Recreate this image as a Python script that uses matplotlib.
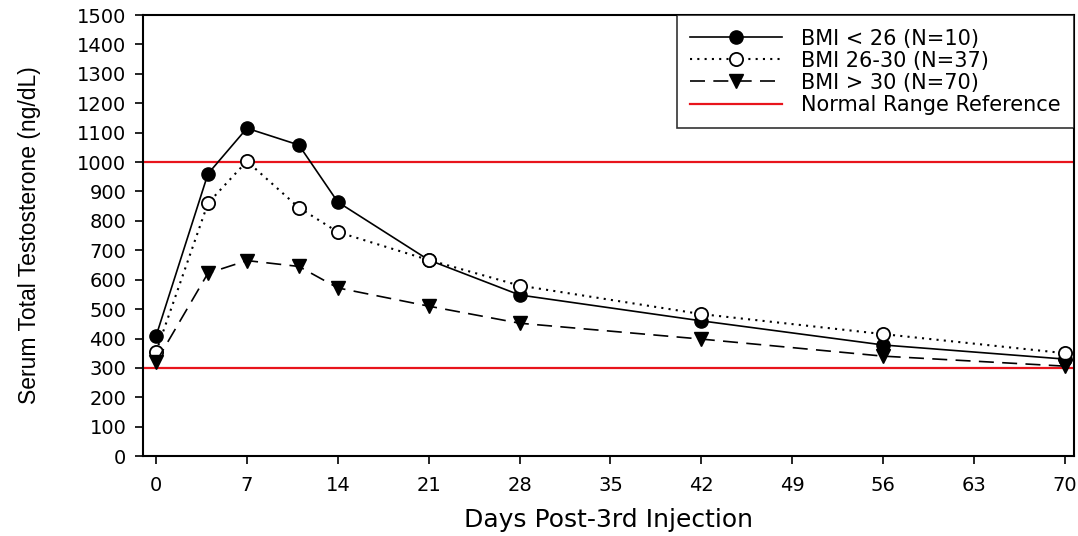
import matplotlib
matplotlib.use("Agg")
import matplotlib.pyplot as plt

plt.rcParams['font.family'] = ['DejaVu Sans']

# days post 3rd injection
days = [0, 4, 7, 11, 14, 21, 28, 42, 56, 70]

# mean serum total testosterone (ng/dL) per BMI group
bmi_lt26 = [408, 960, 1115, 1058, 864, 667, 548, 460, 378, 330]
bmi_26_30 = [354, 860, 1003, 845, 762, 667, 580, 483, 415, 350]
bmi_gt30 = [320, 622, 665, 645, 572, 510, 452, 398, 340, 306]

normal_range = [300, 1000]

xticks = [0, 7, 14, 21, 28, 35, 42, 49, 56, 63, 70]
yticks = list(range(0, 1501, 100))

fig = plt.figure(figsize=(10.78, 5.36), dpi=100)
ax = fig.add_axes([0.1327, 0.149, 0.8636, 0.823])

ax.plot(days, bmi_lt26, color='black', lw=1.2, ls='-', marker='o', ms=9.5,
        mfc='black', mec='black', label='BMI < 26 (N=10)', zorder=3)
ax.plot(days, bmi_26_30, color='black', lw=1.5, ls=(0, (1, 2.5)), marker='o', ms=9.5,
        mfc='white', mec='black', mew=1.3, label='BMI 26-30 (N=37)', zorder=3)
ax.plot(days, bmi_gt30, color='black', lw=1.2, ls=(0, (9, 5)), marker='v', ms=10.5,
        mfc='black', mec='black', label='BMI > 30 (N=70)', zorder=3)

for i, v in enumerate(normal_range):
    ax.axhline(v, color='#e8141c', lw=1.6, zorder=2,
               label='Normal Range Reference' if i == 0 else None)

ax.set_xlim(-1, 70.7)
ax.set_ylim(0, 1500)
ax.set_xticks(xticks)
ax.set_yticks(yticks)
ax.tick_params(direction='out', length=6, width=1.2, labelsize=14)
ax.tick_params(axis='y', pad=6)
ax.tick_params(axis='x', pad=8)
for s in ax.spines.values():
    s.set_linewidth(1.5)

ax.set_xlabel('Days Post-3rd Injection', fontsize=18, labelpad=10)
ax.set_ylabel('Serum Total Testosterone (ng/dL)', fontsize=16.5,
              family='Liberation Sans', labelpad=26)

leg = ax.legend(loc='upper right', fontsize=15, frameon=True, fancybox=False,
                edgecolor='black', borderaxespad=0, handlelength=4.4,
                handletextpad=0.9, labelspacing=0.1, borderpad=0.65)
leg.get_frame().set_linewidth(1.2)

fig.savefig('out.png', dpi=100)
